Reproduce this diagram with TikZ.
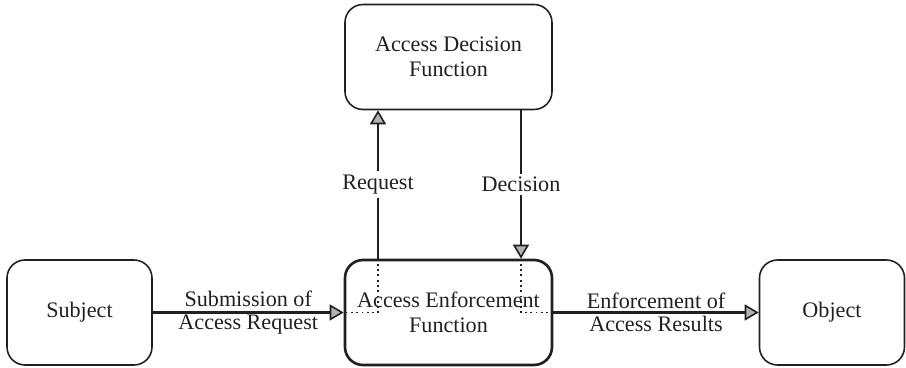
\documentclass[tikz,border=0pt]{standalone}
\usepackage{fontspec}
\setmainfont{Liberation Serif}
\usetikzlibrary{arrows.meta}
\definecolor{ink}{HTML}{202020}
\tikzset{
  box/.style={draw=ink,line width=0.9pt,rounded corners=0.36cm,minimum width=2.9cm,minimum height=2.1cm,
    align=center,text=ink,font=\rmfamily\fontsize{12.6}{14}\selectfont},
  flow/.style={draw=ink,line width=1.5pt,
    -{Triangle[length=0.28cm,width=0.32cm,fill=gray!60,line width=0.9pt]}},
  lbl/.style={text=ink,align=center,font=\rmfamily\fontsize{12.6}{13.4}\selectfont}
}
\begin{document}
\begin{tikzpicture}
  \useasboundingbox (0,0) rectangle (18.12,7.36);
  % boxes
  \node[box] (subject) at (1.59,1.11) {Subject};
  \node[box,minimum width=4.14cm,line width=1.5pt] (aef) at (8.97,1.11) {Access Enforcement\\Function};
  \node[box] (object) at (16.64,1.11) {Object};
  \node[box,minimum width=4.14cm] (adf) at (8.97,6.22) {Access Decision\\Function};
  \coordinate (reqx) at (7.56,0);
  \coordinate (decx) at (10.42,0);
  % connectors
  \draw[flow] (subject) -- (aef) node[lbl,midway]{Submission of\\Access Request};
  \draw[flow] (aef) -- (object) node[lbl,midway]{Enforcement of\\Access Results};
  \draw[flow] (aef.north -| reqx) -- (adf.south -| reqx) node[lbl,midway,fill=white,inner sep=2pt]{Request};
  \draw[flow] (adf.south -| decx) -- (aef.north -| decx) node[lbl,midway,fill=white,inner sep=2pt]{Decision};
  % paths inside the enforcement box
  \draw[ink,dotted,line width=1pt] (aef.north -| reqx) |- (aef.west);
  \draw[ink,dotted,line width=1pt] (aef.north -| decx) |- (aef.east);
\end{tikzpicture}
\end{document}
